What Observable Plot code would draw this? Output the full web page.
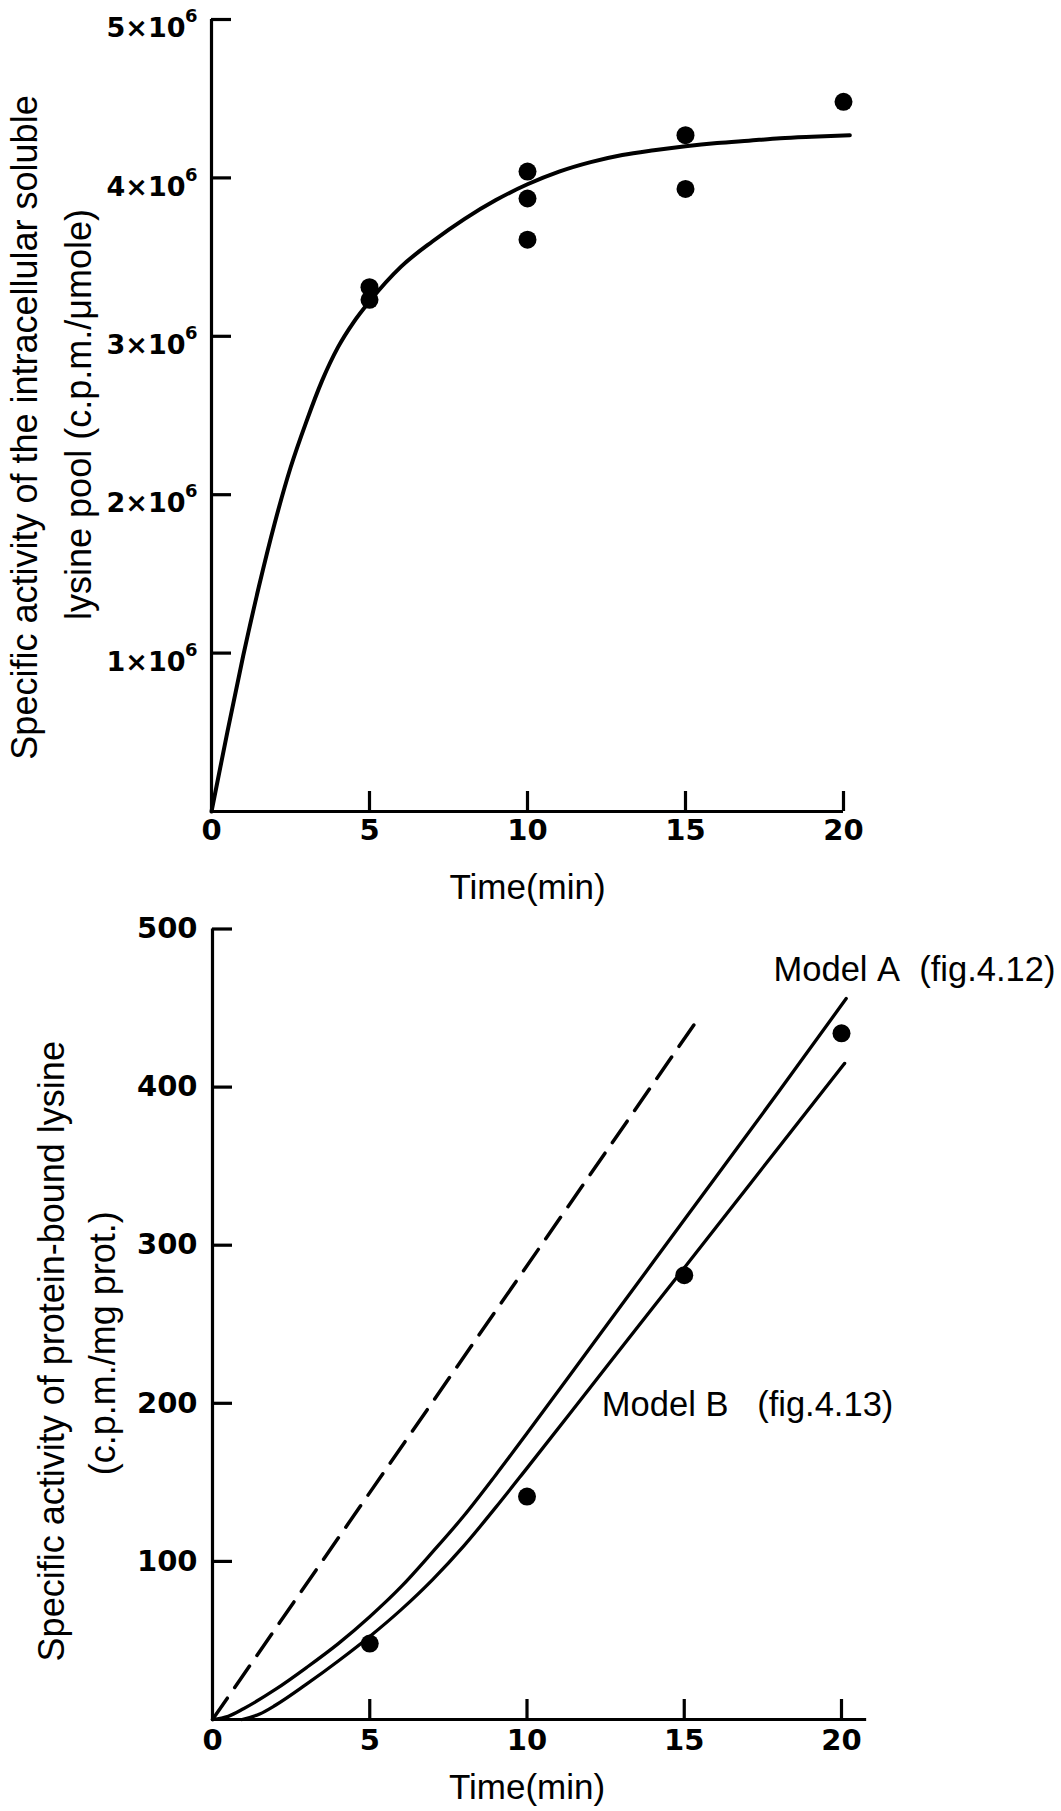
<!DOCTYPE html>
<html>
<head>
<meta charset="utf-8">
<script src="https://cdn.jsdelivr.net/npm/d3@7"></script>
<script src="https://cdn.jsdelivr.net/npm/@observablehq/plot@0.6"></script>
<style>
  html, body { margin: 0; padding: 0; background: #fff; }
  #chart { width: 1061px; }
  #chart svg { display: block; }
</style>
</head>
<body>
<div id="chart"></div>
<script>
// ---------- Top panel: intracellular soluble lysine pool (values in units of 10^6 c.p.m./µmole) ----------
const poolCurveTime     = [0, 0.5, 1, 1.5, 2, 2.5, 3, 3.5, 4, 4.5, 5, 6, 7, 8, 9, 10, 11, 12, 13, 14, 15, 16, 17, 18, 19, 20.2];
const poolCurveActivity = [0, 0.5, 0.98, 1.42, 1.82, 2.17, 2.46, 2.72, 2.93, 3.09, 3.22, 3.44, 3.60, 3.74, 3.86, 3.96, 4.04, 4.10, 4.145, 4.175, 4.20, 4.22, 4.235, 4.25, 4.26, 4.27];
const poolPointTime     = [5, 5, 10, 10, 10, 15, 15, 20];
const poolPointActivity = [3.31, 3.23, 4.04, 3.87, 3.61, 4.27, 3.93, 4.48];
const poolTicksY        = [1, 2, 3, 4, 5];
const poolTickExponent  = "6";

// ---------- Bottom panel: protein-bound lysine (c.p.m./mg prot.) ----------
const proteinPointTime     = [5, 10, 15, 20];
const proteinPointActivity = [48, 141, 281, 434];
const dashedTime     = [0, 15.4];
const dashedActivity = [0, 442];
const modelATime     = [0, 0.5, 1, 2, 3, 4, 5, 6, 7, 8, 9, 10, 12, 14, 16, 18, 20.15];
const modelAActivity = [0, 2, 7, 19, 33, 48, 65, 84, 106, 129, 154.5, 181, 235, 289, 343, 397, 456];
const modelBTime     = [0.94, 1.5, 2, 3, 4, 5, 6, 7, 8, 9, 10, 12, 14, 16, 18, 20.1];
const modelBActivity = [0, 3.5, 9, 22.5, 37, 52.5, 69.5, 88.5, 110, 134, 159, 209.7, 260.4, 311, 361.8, 415];
const proteinTicksY  = [100, 200, 300, 400, 500];

// ---------- shared ----------
const timeTicks      = [0, 5, 10, 15, 20];
const timeTickMarks  = [5, 10, 15, 20];
const timeLabel      = "Time(min)";
const poolTitle      = ["Specific activity of the intracellular soluble", "lysine pool (c.p.m./\u03bcmole)"];
const proteinTitle   = ["Specific activity of protein-bound lysine", "(c.p.m./mg prot.)"];
const modelLabels    = [
  {text: "Model\u00a0A\u00a0\u00a0(fig.4.12)", t: 17.84, v: 474},
  {text: "Model\u00a0B\u00a0\u00a0\u00a0(fig.4.13)", t: 12.38, v: 199}
];

const TICK_FONT  = "DejaVu Sans";
const TITLE_FONT = "Liberation Sans";
const INK = "#000";

function zip(xs, ys) { return xs.map((x, i) => ({x, y: ys[i]})); }

// ---------- Top plot ----------
const topPlot = Plot.plot({
  width: 1061, height: 900,
  marginLeft: 211, marginRight: 218, marginTop: 19, marginBottom: 89,
  style: {fontFamily: TITLE_FONT, color: INK, background: "#fff", overflow: "visible"},
  x: {domain: [0, 20]},
  y: {domain: [0, 5]},
  marks: [
    Plot.ruleX([0], {y1: 0, y2: 5, stroke: INK, strokeWidth: 3.2}),
    Plot.ruleY([0], {x1: 0, x2: 20, stroke: INK, strokeWidth: 3.2}),
    Plot.axisY({ticks: poolTicksY, tickSize: -20, fill: "none", stroke: INK, strokeWidth: 3.2, label: null}),
    Plot.axisY({ticks: poolTicksY, tickSize: 0, tickPadding: 26, dy: 9, tickFormat: d => `${d}\u00d710`,
      fontFamily: TICK_FONT, fontWeight: "bold", fontSize: 27, fill: INK, label: null}),
    Plot.axisY({ticks: poolTicksY, tickSize: 0, tickPadding: 14, dy: -3, tickFormat: () => poolTickExponent,
      fontFamily: TICK_FONT, fontWeight: "bold", fontSize: 18, fill: INK, label: null}),
    Plot.axisX({ticks: timeTickMarks, tickSize: -20, fill: "none", stroke: INK, strokeWidth: 3.2, label: null}),
    Plot.axisX({ticks: timeTicks, tickSize: 0, tickPadding: 8, tickFormat: d => `${d}`,
      fontFamily: TICK_FONT, fontWeight: "bold", fontSize: 29, fill: INK, label: null}),
    Plot.line(zip(poolCurveTime, poolCurveActivity), {x: "x", y: "y", stroke: INK, strokeWidth: 4, curve: "monotone-x"}),
    Plot.dot(zip(poolPointTime, poolPointActivity), {x: "x", y: "y", r: 9, fill: INK, stroke: "none"}),
    Plot.text([timeLabel], {frameAnchor: "bottom", dy: 76, fontSize: 35, fontFamily: TITLE_FONT, fill: INK, lineAnchor: "middle"}),
    Plot.text([poolTitle[0]], {frameAnchor: "left", rotate: -90, dx: -186, dy: 12, fontSize: 36, fontFamily: TITLE_FONT, fill: INK, lineAnchor: "middle", textAnchor: "middle"}),
    Plot.text([poolTitle[1]], {frameAnchor: "left", rotate: -90, dx: -132, dy: -1, fontSize: 36, fontFamily: TITLE_FONT, fill: INK, lineAnchor: "middle", textAnchor: "middle"})
  ]
});

// ---------- Bottom plot ----------
const bottomPlot = Plot.plot({
  width: 1061, height: 911,
  marginLeft: 212, marginRight: 220, marginTop: 28.5, marginBottom: 92,
  style: {fontFamily: TITLE_FONT, color: INK, background: "#fff", overflow: "visible"},
  x: {domain: [0, 20]},
  y: {domain: [0, 500]},
  marks: [
    Plot.ruleX([0], {y1: 0, y2: 500, stroke: INK, strokeWidth: 3.2}),
    Plot.ruleY([0], {x1: 0, x2: 20.8, stroke: INK, strokeWidth: 3.2}),
    Plot.axisY({ticks: proteinTicksY, tickSize: -20, fill: "none", stroke: INK, strokeWidth: 3.2, label: null}),
    Plot.axisY({ticks: proteinTicksY, tickSize: 0, tickPadding: 15, tickFormat: d => `${d}`,
      fontFamily: TICK_FONT, fontWeight: "bold", fontSize: 29, fill: INK, label: null}),
    Plot.axisX({ticks: timeTickMarks, tickSize: -20, fill: "none", stroke: INK, strokeWidth: 3.2, label: null}),
    Plot.axisX({ticks: timeTicks, tickSize: 0, tickPadding: 10, tickFormat: d => `${d}`,
      fontFamily: TICK_FONT, fontWeight: "bold", fontSize: 29, fill: INK, label: null}),
    Plot.line(zip(dashedTime, dashedActivity), {x: "x", y: "y", stroke: INK, strokeWidth: 3.5, strokeDasharray: "26,13"}),
    Plot.line(zip(modelATime, modelAActivity), {x: "x", y: "y", stroke: INK, strokeWidth: 3.3, curve: "monotone-x"}),
    Plot.line(zip(modelBTime, modelBActivity), {x: "x", y: "y", stroke: INK, strokeWidth: 3.3, curve: "monotone-x"}),
    Plot.dot(zip(proteinPointTime, proteinPointActivity), {x: "x", y: "y", r: 9, fill: INK, stroke: "none"}),
    Plot.text(modelLabels, {x: "t", y: "v", text: "text", textAnchor: "start", lineAnchor: "middle", fontSize: 34.5, fontFamily: TITLE_FONT, fill: INK}),
    Plot.text([timeLabel], {frameAnchor: "bottom", dy: 68, fontSize: 35, fontFamily: TITLE_FONT, fill: INK, lineAnchor: "middle"}),
    Plot.text([proteinTitle[0]], {frameAnchor: "left", rotate: -90, dx: -160, dy: 27, fontSize: 36, fontFamily: TITLE_FONT, fill: INK, lineAnchor: "middle", textAnchor: "middle"}),
    Plot.text([proteinTitle[1]], {frameAnchor: "left", rotate: -90, dx: -109, dy: 19, fontSize: 36, fontFamily: TITLE_FONT, fill: INK, lineAnchor: "middle", textAnchor: "middle"})
  ]
});

const chart = document.getElementById("chart");
chart.appendChild(topPlot);
chart.appendChild(bottomPlot);
</script>
</body>
</html>
